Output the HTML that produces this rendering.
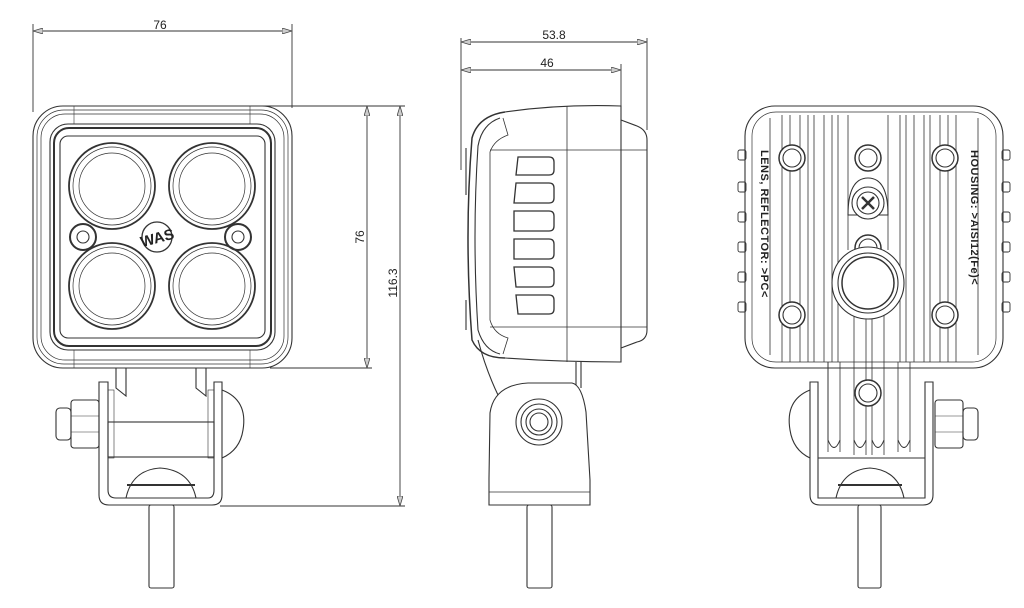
<!DOCTYPE html>
<html><head><meta charset="utf-8"><style>
html,body{margin:0;padding:0;background:#fff;width:1024px;height:608px;overflow:hidden}
svg{display:block}
text{font-family:"Liberation Sans",sans-serif;fill:#222}
</style></head><body>
<svg width="1024" height="608" viewBox="0 0 1024 608" xmlns="http://www.w3.org/2000/svg">
<defs>
<marker id="a" viewBox="0 0 10 6" refX="10" refY="3" markerWidth="10" markerHeight="6" orient="auto-start-reverse" markerUnits="userSpaceOnUse"><path d="M0,0 L10,3 L0,6 z" fill="#ccc" stroke="#444" stroke-width="0.8"/></marker>
</defs>
<g fill="none" stroke="#333" stroke-width="1.1">
<!-- ===== FRONT VIEW ===== -->
<line x1="33" y1="24" x2="33" y2="112" stroke-width="0.9"/>
<line x1="292" y1="24" x2="292" y2="108" stroke-width="0.9"/>
<line x1="33" y1="31" x2="292" y2="31" stroke-width="0.9" marker-start="url(#a)" marker-end="url(#a)"/>
<line x1="160" y1="106" x2="405" y2="106" stroke-width="0.9"/>
<line x1="270" y1="368" x2="372" y2="368" stroke-width="0.9"/>
<line x1="220" y1="506" x2="405" y2="506" stroke-width="0.9"/>
<line x1="367" y1="106" x2="367" y2="368" stroke-width="0.9" marker-start="url(#a)" marker-end="url(#a)"/>
<line x1="400" y1="106" x2="400" y2="506" stroke-width="0.9" marker-start="url(#a)" marker-end="url(#a)"/>
<rect x="33" y="106" width="259" height="262" rx="30"/>
<rect x="37" y="110" width="251" height="254" rx="27" stroke-width="0.7"/>
<rect x="41" y="114" width="243" height="246" rx="24" stroke-width="0.7"/>
<rect x="50" y="124" width="225" height="226" rx="18"/>
<rect x="54" y="128" width="217" height="218" rx="15" stroke-width="2"/>
<rect x="60" y="136" width="205" height="202" rx="8"/>
<line x1="74" y1="106" x2="74" y2="124" stroke-width="0.6"/><line x1="250" y1="106" x2="250" y2="124" stroke-width="0.6"/>
<line x1="74" y1="350" x2="74" y2="368" stroke-width="0.6"/><line x1="250" y1="350" x2="250" y2="368" stroke-width="0.6"/>
<g>
<circle cx="112" cy="186" r="43" stroke-width="1.8"/><circle cx="112" cy="186" r="39" stroke-width="0.7"/><circle cx="112" cy="186" r="33" stroke-width="0.7"/>
<circle cx="212" cy="186" r="43" stroke-width="1.8"/><circle cx="212" cy="186" r="39" stroke-width="0.7"/><circle cx="212" cy="186" r="33" stroke-width="0.7"/>
<circle cx="112" cy="286" r="43" stroke-width="1.8"/><circle cx="112" cy="286" r="39" stroke-width="0.7"/><circle cx="112" cy="286" r="33" stroke-width="0.7"/>
<circle cx="212" cy="286" r="43" stroke-width="1.8"/><circle cx="212" cy="286" r="39" stroke-width="0.7"/><circle cx="212" cy="286" r="33" stroke-width="0.7"/>
</g>
<circle cx="83" cy="237" r="13" stroke-width="2"/><circle cx="83" cy="237" r="6"/>
<circle cx="238" cy="237" r="13" stroke-width="2"/><circle cx="238" cy="237" r="6"/>
<circle cx="157" cy="237" r="15" stroke-width="1.3"/>
<text x="157" y="243" font-size="15" text-anchor="middle" font-weight="bold" stroke="none" transform="rotate(-15 157 237)">WAS</text>
<path d="M116,368 V388 L126,396 V368"/><path d="M196,368 V388 L206,396 V368"/>
<path d="M99,382 H108 V490 Q108,498 116,498 H208 Q214,498 214,490 V382 H222 V495 Q222,505 212,505 H109 Q99,505 99,495 Z"/>
<rect x="108" y="422" width="106" height="35"/>
<rect x="108" y="390" width="6" height="68" stroke-width="0.6"/><rect x="208" y="390" width="6" height="68" stroke-width="0.6"/>
<path d="M222,390 Q248,400 243,430 Q240,450 222,458"/>
<path d="M126,498 Q132,470 160,468 Q190,470 196,498"/><path d="M127,485 H195" stroke-width="2"/>
<rect x="71" y="400" width="28" height="48" rx="3"/><rect x="56" y="408" width="15" height="32" rx="4"/>
<line x1="71" y1="416" x2="99" y2="416" stroke-width="0.6"/><line x1="71" y1="432" x2="99" y2="432" stroke-width="0.6"/>
<rect x="149" y="505" width="25" height="83" rx="2"/>
</g>
<text x="160" y="29" font-size="12" text-anchor="middle">76</text>
<text transform="translate(364 237) rotate(-90)" font-size="12" text-anchor="middle">76</text>
<text transform="translate(397 283) rotate(-90)" font-size="12" text-anchor="middle">116.3</text>

<!-- ===== SIDE VIEW ===== -->
<g fill="none" stroke="#333" stroke-width="1.1">
<line x1="461" y1="38" x2="461" y2="170" stroke-width="0.9"/>
<line x1="647" y1="38" x2="647" y2="130" stroke-width="0.9"/>
<line x1="621" y1="64" x2="621" y2="110" stroke-width="0.9"/>
<line x1="461" y1="42" x2="647" y2="42" stroke-width="0.9" marker-start="url(#a)" marker-end="url(#a)"/>
<line x1="461" y1="70" x2="621" y2="70" stroke-width="0.9" marker-start="url(#a)" marker-end="url(#a)"/>
<path d="M505,112 Q560,104 621,106 V362 Q560,362 505,358"/>
<path d="M505,112 Q478,116 472,138 Q464,236 472,340 Q480,358 505,358" stroke-width="1.5"/>
<path d="M500,118 Q482,124 478,146 Q472,236 478,330 Q484,350 500,354"/>
<path d="M503,118 L508,135 Q494,140 490,152 V320 Q494,334 508,338 L503,354" stroke-width="0.8"/>
<line x1="490" y1="150" x2="647" y2="150" stroke-width="0.7"/>
<line x1="490" y1="327" x2="647" y2="327" stroke-width="0.7"/>
<line x1="567" y1="106" x2="567" y2="362" stroke-width="0.8"/>
<path d="M621,120 L637,126 Q647,130 647,140 V330 Q647,340 637,342 L621,348"/>
<line x1="466" y1="148" x2="466" y2="195"/><line x1="466" y1="300" x2="466" y2="330"/>
<g stroke-width="1.3">
<path d="M518,157 H549 Q554,157 554,162 V170 Q554,175 549,175 H516 Z"/>
<path d="M516,183 H549 Q554,183 554,188 V198 Q554,203 549,203 H514 Z"/>
<path d="M514,211 H549 Q554,211 554,216 V226 Q554,231 549,231 H514 Z"/>
<path d="M514,239 H549 Q554,239 554,244 V254 Q554,259 549,259 H514 Z"/>
<path d="M514,267 H549 Q554,267 554,272 V282 Q554,287 549,287 H516 Z"/>
<path d="M516,295 H549 Q554,295 554,300 V309 Q554,314 549,314 H518 Z"/>
</g>
<path d="M478,340 Q486,370 498,395"/>
<line x1="576" y1="362" x2="576" y2="385"/><line x1="581" y1="362" x2="581" y2="388"/>
<path d="M490,413 Q494,385 528,383 H572 Q582,385 586,412 L590,480 V505 H489 V478 Z"/>
<line x1="489" y1="492" x2="590" y2="492" stroke-width="0.8"/>
<circle cx="539" cy="422" r="23"/><circle cx="539" cy="422" r="18"/><circle cx="539" cy="422" r="13"/><circle cx="539" cy="422" r="9"/>
<rect x="527" y="505" width="25" height="83" rx="2"/>
</g>
<text x="554" y="39" font-size="12" text-anchor="middle">53.8</text>
<text x="547" y="67" font-size="12" text-anchor="middle">46</text>

<!-- ===== REAR VIEW ===== -->
<g fill="none" stroke="#333" stroke-width="1.1">
<rect x="745" y="106" width="258" height="262" rx="30"/>
<rect x="752" y="112" width="244" height="250" rx="24" stroke-width="0.7"/>
<g stroke-width="0.8">
<path d="M770,118 V355 M782,115 V362 M790,115 V362 M800,115 V362 M808,115 V362 M814,115 V362 M824,115 V362 M832,115 V362 M838,115 V362"/>
<path d="M900,115 V362 M906,115 V362 M914,115 V362 M924,115 V362 M930,115 V362 M940,115 V362 M948,115 V362 M956,115 V362 M978,118 V355"/>
<path d="M828,362 V452 M840,362 V452 M854,250 V455 M866,305 V455 M872,305 V455 M884,250 V455 M898,362 V452 M910,362 V452"/>
<path d="M848,115 V250 M888,115 V250"/>
</g>
<g stroke-width="0.9">
<rect x="738" y="150" width="8" height="10" rx="2"/><rect x="738" y="182" width="8" height="10" rx="2"/><rect x="738" y="212" width="8" height="10" rx="2"/><rect x="738" y="242" width="8" height="10" rx="2"/><rect x="738" y="272" width="8" height="10" rx="2"/><rect x="738" y="302" width="8" height="10" rx="2"/>
<rect x="1002" y="150" width="8" height="10" rx="2"/><rect x="1002" y="182" width="8" height="10" rx="2"/><rect x="1002" y="212" width="8" height="10" rx="2"/><rect x="1002" y="242" width="8" height="10" rx="2"/><rect x="1002" y="272" width="8" height="10" rx="2"/><rect x="1002" y="302" width="8" height="10" rx="2"/>
</g>
<g fill="#fff">
<circle cx="792" cy="158" r="13" stroke-width="1.5"/><circle cx="792" cy="158" r="9"/>
<circle cx="868" cy="158" r="13" stroke-width="1.5"/><circle cx="868" cy="158" r="9"/>
<circle cx="945" cy="158" r="13" stroke-width="1.5"/><circle cx="945" cy="158" r="9"/>
<circle cx="792" cy="315" r="13" stroke-width="1.5"/><circle cx="792" cy="315" r="9"/>
<circle cx="945" cy="315" r="13" stroke-width="1.5"/><circle cx="945" cy="315" r="9"/>
<path d="M848,215 Q848,178 868,178 Q888,178 888,215 Z"/>
<circle cx="868" cy="203" r="16"/><circle cx="868" cy="203" r="11"/>
<circle cx="868" cy="248" r="13" stroke-width="1.5"/><circle cx="868" cy="248" r="9"/>
<circle cx="868" cy="283" r="36"/><circle cx="868" cy="283" r="30"/><circle cx="868" cy="283" r="26" stroke-width="1.5"/>
<circle cx="868" cy="393" r="13" stroke-width="1.5"/><circle cx="868" cy="393" r="9"/>
</g>
<path d="M862,197 L874,209 M874,197 L862,209" stroke-width="2.5"/>
<path d="M810,382 H818 V498 H925 V382 H933 V495 Q933,505 923,505 H820 Q810,505 810,495 Z" fill="#fff"/>
<path d="M818,458 H925" />
<path d="M810,390 Q785,400 790,430 Q793,450 810,458"/>
<path d="M836,498 Q842,470 870,468 Q898,470 904,498"/><path d="M838,485 H902" stroke-width="2"/>
<g stroke-width="1"><path d="M828,362 V440 Q834,455 840,440 M854,440 Q860,455 866,440 M872,440 Q878,455 884,440 M898,440 Q904,455 910,440"/></g>
<rect x="935" y="400" width="28" height="48" rx="3"/><rect x="963" y="408" width="15" height="32" rx="4"/>
<line x1="935" y1="416" x2="963" y2="416" stroke-width="0.6"/><line x1="935" y1="432" x2="963" y2="432" stroke-width="0.6"/>
<rect x="858" y="505" width="23" height="83" rx="2"/>
</g>
<text transform="translate(761 150) rotate(90)" font-size="11" font-weight="bold" letter-spacing="0.5">LENS, REFLECTOR: &gt;PC&lt;</text>
<text transform="translate(971 150) rotate(90)" font-size="11" font-weight="bold" letter-spacing="0.5">HOUSING: &gt;AISI12(Fe)&lt;</text>
</svg>
</body></html>
